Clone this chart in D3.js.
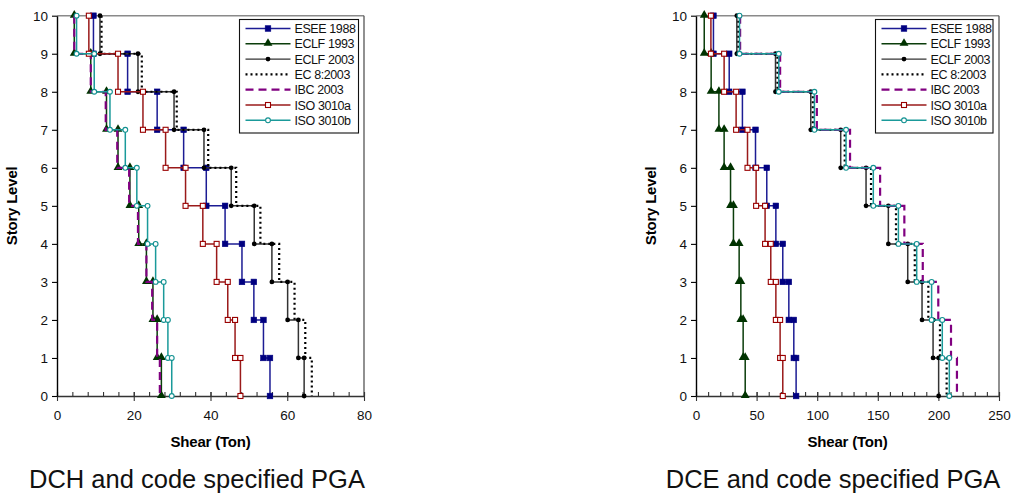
<!DOCTYPE html>
<html>
<head>
<meta charset="utf-8">
<script src="https://cdn.jsdelivr.net/npm/d3@7"></script>
<style>
  html, body { margin: 0; padding: 0; background: #fff; }
  svg { display: block; font-family: "Liberation Sans", Arial, sans-serif; }
</style>
</head>
<body>
<svg id="chart" width="1014" height="495"></svg>
<script>
// Story levels (top story first)
const stories = [10, 9, 8, 7, 6, 5, 4, 3, 2, 1];

// Storey shear (Ton) per level, DCH ductility class
const eseeDCH   = [9.5, 18.4, 26.1, 33.0, 38.9, 43.8, 48.2, 51.3, 53.8, 55.5];
const eclf93DCH = [4.5, 8.8, 12.9, 15.9, 19.0, 21.3, 23.3, 25.0, 26.1, 27.2];
const eclf03DCH = [11.2, 21.1, 30.5, 38.3, 45.4, 51.4, 56.0, 60.1, 62.9, 64.4];
const ec8DCH    = [11.6, 22.1, 31.2, 39.4, 46.7, 53.0, 57.9, 61.9, 64.7, 66.4];
const ibcDCH    = [4.5, 8.8, 12.7, 15.7, 18.8, 21.1, 23.3, 24.8, 26.1, 26.8];
const isoaDCH   = [8.3, 15.9, 22.4, 28.3, 33.5, 38.0, 41.6, 44.5, 46.4, 47.8];
const isobDCH   = [5.1, 9.7, 13.8, 17.8, 20.8, 23.6, 25.7, 27.8, 28.9, 29.9];

// Storey shear (Ton) per level, DCE ductility class
const eseeDCE   = [14.4, 27.4, 38.3, 49.1, 58.4, 65.9, 71.6, 76.6, 80.7, 82.6];
const eclf93DCE = [6.8, 12.5, 18.9, 23.2, 28.5, 30.9, 35.6, 37.0, 38.9, 40.6];
const eclf03DCE = [33.7, 65.6, 94.7, 119.4, 140.3, 158.7, 174.7, 186.5, 195.6, 200.2];
const ec8DCE    = [35.0, 67.2, 96.4, 122.7, 144.4, 165.0, 180.5, 191.7, 201.3, 206.8];
const ibcDCE    = [36.4, 69.4, 99.7, 127.1, 151.9, 171.9, 187.1, 199.9, 210.4, 215.3];
const isoaDCE   = [12.3, 23.2, 33.1, 42.5, 49.6, 57.0, 61.7, 65.9, 69.4, 71.6];
const isobDCE   = [35.9, 68.3, 97.7, 123.8, 146.3, 167.0, 182.1, 194.4, 203.2, 209.0];

const seriesNames = ["ESEE 1988", "ECLF 1993", "ECLF 2003", "EC 8:2003", "IBC 2003", "ISO 3010a", "ISO 3010b"];
const yTicks = [0, 1, 2, 3, 4, 5, 6, 7, 8, 9, 10];
const xTicksDCH = [0, 20, 40, 60, 80];
const xTicksDCE = [0, 50, 100, 150, 200, 250];

// Visual style per series
const styles = {
  "ESEE 1988": { line: "#1c1c94", width: 1.5, marker: "square", fill: "#000080", stroke: "#000080" },
  "ECLF 1993": { line: "#0b3d0b", width: 1.5, marker: "triangle", fill: "#003300", stroke: "#003300" },
  "ECLF 2003": { line: "#333333", width: 1.5, marker: "circle", fill: "#000000", stroke: "#000000" },
  "EC 8:2003": { line: "#000000", width: 2.2, dash: "2,3", marker: null },
  "IBC 2003":  { line: "#800080", width: 2.2, dash: "8,5", marker: null },
  "ISO 3010a": { line: "#9a1a1a", width: 1.5, marker: "osquare", fill: "#ffffff", stroke: "#990000" },
  "ISO 3010b": { line: "#1a9a9a", width: 1.5, marker: "ocircle", fill: "#ffffff", stroke: "#109090" }
};

const svg = d3.select("#chart");

function stepPoints(vals) {
  const pts = [];
  vals.forEach((v, i) => {
    pts.push([v, stories[i]]);
    pts.push([v, stories[i] - 1]);
  });
  return pts;
}

function drawMarker(g, type, x, y, st) {
  if (type === "square") {
    g.append("rect").attr("x", x - 2.8).attr("y", y - 2.8).attr("width", 5.6).attr("height", 5.6)
      .attr("fill", st.fill).attr("stroke", st.stroke).attr("stroke-width", 0.6);
  } else if (type === "osquare") {
    g.append("rect").attr("x", x - 2.5).attr("y", y - 2.5).attr("width", 5).attr("height", 5)
      .attr("fill", st.fill).attr("stroke", st.stroke).attr("stroke-width", 1.1);
  } else if (type === "triangle") {
    g.append("path").attr("d", d3.symbol().type(d3.symbolTriangle).size(34)())
      .attr("transform", `translate(${x},${y - 0.5})`).attr("fill", st.fill);
  } else if (type === "circle") {
    g.append("circle").attr("cx", x).attr("cy", y).attr("r", 2.4).attr("fill", st.fill);
  } else if (type === "ocircle") {
    g.append("circle").attr("cx", x).attr("cy", y).attr("r", 2.4)
      .attr("fill", st.fill).attr("stroke", st.stroke).attr("stroke-width", 1.1);
  }
}

function drawPanel(opt) {
  const x = d3.scaleLinear().domain([0, opt.xMax]).range([opt.left, opt.right]);
  const y = d3.scaleLinear().domain([0, 10]).range([396, 15.7]);
  const g = svg.append("g");

  // frame: top and right edges of the plot area
  g.append("line").attr("x1", opt.left).attr("x2", opt.right).attr("y1", y(10)).attr("y2", y(10))
    .attr("stroke", "#8a8a8a").attr("stroke-width", 1.6);
  g.append("line").attr("x1", opt.right).attr("x2", opt.right).attr("y1", y(10)).attr("y2", y(0))
    .attr("stroke", "#555").attr("stroke-width", 1.3);

  // minor ticks on x axis (inside)
  const minor = d3.range(0, opt.xMax + 0.001, opt.minorStep);
  const xMinor = d3.axisBottom(x).tickValues(minor).tickSize(-4).tickFormat("");
  g.append("g").attr("transform", `translate(0,${y(0)})`).call(xMinor)
    .call(a => a.select(".domain").remove())
    .call(a => a.selectAll("line").attr("stroke", "#333").attr("stroke-width", 1.1));

  // major ticks and labels on x axis
  const xAxis = d3.axisBottom(x).tickValues(opt.xTicks).tickSize(5).tickSizeOuter(0).tickPadding(9);
  g.append("g").attr("transform", `translate(0,${y(0)})`).call(xAxis)
    .call(a => a.select(".domain").attr("stroke", "#333").attr("stroke-width", 1.6))
    .call(a => a.selectAll("line").attr("stroke", "#333").attr("stroke-width", 1.1).attr("y1", -4))
    .call(a => a.selectAll("text").attr("font-size", 13.5).attr("fill", "#111")
      .attr("font-family", "Liberation Sans, Arial, sans-serif"));

  // y axis
  const yAxis = d3.axisLeft(y).tickValues(yTicks).tickSize(5).tickSizeOuter(0).tickPadding(4);
  g.append("g").attr("transform", `translate(${opt.left},0)`).call(yAxis)
    .call(a => a.select(".domain").attr("stroke", "#000").attr("stroke-width", 1.4))
    .call(a => a.selectAll("line").attr("stroke", "#000").attr("stroke-width", 1.1))
    .call(a => a.selectAll("text").attr("font-size", 13.5).attr("fill", "#111")
      .attr("font-family", "Liberation Sans, Arial, sans-serif"));

  // axis titles
  g.append("text").attr("x", opt.left + (opt.right - opt.left) / 2).attr("y", 447)
    .attr("text-anchor", "middle").attr("font-weight", "bold").attr("font-size", 15)
    .attr("letter-spacing", -0.2).text("Shear (Ton)");
  g.append("text").attr("transform", `translate(${opt.left - 40},${y(5)}) rotate(-90)`)
    .attr("text-anchor", "middle").attr("font-weight", "bold").attr("font-size", 15)
    .attr("letter-spacing", -0.2).text("Story Level");

  // caption
  g.append("text").attr("x", opt.captionX).attr("y", 488).attr("text-anchor", "middle")
    .attr("font-size", 25.5).attr("fill", "#111").text(opt.caption);

  // series
  const line = d3.line().x(d => x(d[0])).y(d => y(d[1]));
  opt.series.forEach((vals, i) => {
    const name = seriesNames[i];
    const st = styles[name];
    const pts = stepPoints(vals);
    const sg = g.append("g");
    sg.append("path").attr("d", line(pts)).attr("fill", "none")
      .attr("stroke", st.line).attr("stroke-width", st.width)
      .attr("stroke-dasharray", st.dash || null);
    if (st.marker) pts.forEach(p => drawMarker(sg, st.marker, x(p[0]), y(p[1]), st));
  });

  // legend
  const lg = g.append("g").attr("transform", `translate(${opt.legendX},19.5)`);
  lg.append("rect").attr("x", 0).attr("y", 0).attr("width", opt.legendW).attr("height", 113.5)
    .attr("fill", "#fff").attr("stroke", "#111").attr("stroke-width", 1.1);
  seriesNames.forEach((name, i) => {
    const st = styles[name];
    const cy = 9 + i * 15.3;
    lg.append("line").attr("x1", 6).attr("x2", 51).attr("y1", cy).attr("y2", cy)
      .attr("stroke", st.line).attr("stroke-width", st.dash ? 2.2 : 1.4)
      .attr("stroke-dasharray", st.dash || null);
    if (st.marker) drawMarker(lg, st.marker, 28.5, cy, st);
    lg.append("text").attr("x", 55).attr("y", cy + 4.5).attr("font-size", 12.5)
      .attr("letter-spacing", -0.4).attr("fill", "#111").text(name);
  });
}

drawPanel({
  left: 57, right: 364, xMax: 80, xTicks: xTicksDCH, minorStep: 4,
  series: [eseeDCH, eclf93DCH, eclf03DCH, ec8DCH, ibcDCH, isoaDCH, isobDCH],
  legendX: 239.5, legendW: 119, caption: "DCH and code specified PGA", captionX: 197
});
drawPanel({
  left: 696, right: 999, xMax: 250, xTicks: xTicksDCE, minorStep: 10,
  series: [eseeDCE, eclf93DCE, eclf03DCE, ec8DCE, ibcDCE, isoaDCE, isobDCE],
  legendX: 875.5, legendW: 117.5, caption: "DCE and code specified PGA", captionX: 833
});
</script>
</body>
</html>
